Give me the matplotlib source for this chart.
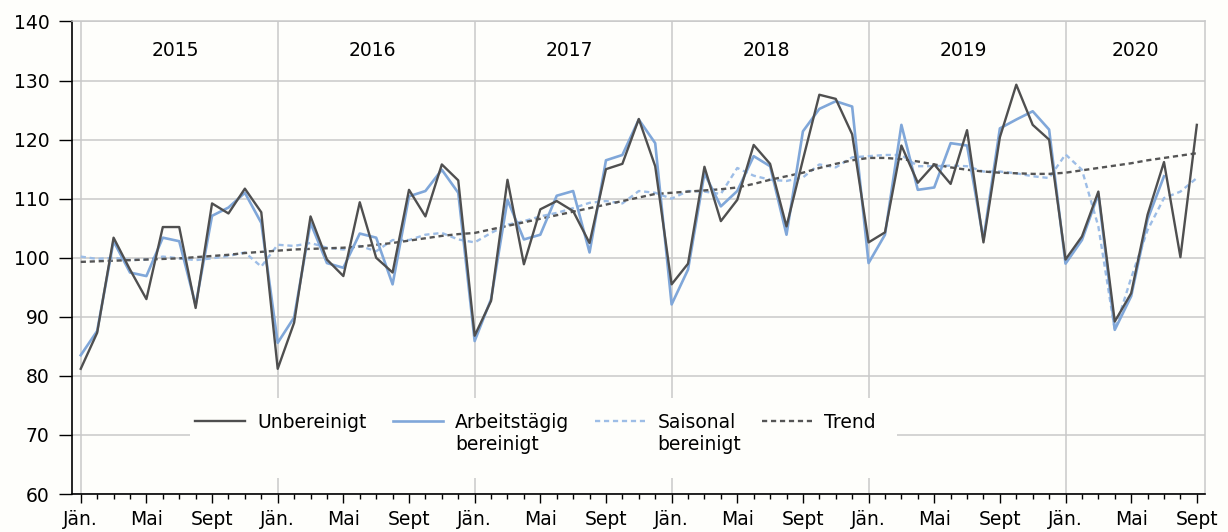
import numpy as np
import matplotlib
matplotlib.use("Agg")
import matplotlib.pyplot as plt
from matplotlib.lines import Line2D
from matplotlib.patches import Rectangle

# monthly index values, Jan 2015 .. Sept 2020
years = ["2015", "2016", "2017", "2018", "2019", "2020"]
month_labels = ["Jän.", "Mai", "Sept"]

unbereinigt = [
    81.2, 87.3, 103.4, 98.0, 93.0, 105.2, 105.2, 91.5, 109.2, 107.5, 111.7, 107.7,
    81.2, 89.0, 107.0, 99.7, 96.9, 109.4, 100.0, 97.5, 111.5, 107.0, 115.8, 113.1,
    86.8, 92.7, 113.2, 98.9, 108.2, 109.6, 107.9, 102.5, 115.0, 115.9, 123.5, 115.5,
    95.5, 99.0, 115.4, 106.2, 109.8, 119.1, 115.9, 105.3, 116.6, 127.6, 126.9, 120.9,
    102.6, 104.3, 119.0, 112.7, 115.8, 112.5, 121.6, 102.6, 120.4, 129.3, 122.5, 120.0,
    99.7, 103.6, 111.2, 89.2, 94.0, 107.3, 116.2, 100.1, 122.5,
]
arbeitstaegig = [
    83.5, 87.6, 102.8, 97.5, 96.9, 103.4, 102.8, 92.0, 107.1, 108.5, 111.0, 105.9,
    85.6, 89.9, 105.9, 99.1, 98.3, 104.1, 103.4, 95.5, 110.4, 111.3, 114.9, 111.0,
    85.9, 93.0, 109.8, 103.1, 103.9, 110.5, 111.3, 100.9, 116.5, 117.4, 123.4, 119.4,
    92.1, 98.0, 114.3, 108.7, 111.3, 117.2, 115.5, 103.9, 121.4, 125.2, 126.5, 125.6,
    99.1, 103.9, 122.5, 111.5, 111.9, 119.4, 119.0, 103.1, 121.9, 123.4, 124.8, 121.7,
    99.0, 103.0, 110.8, 87.8, 93.5, 106.5, 113.8, np.nan, np.nan,
]
saisonal = [
    100.2, 99.8, 100.0, 99.6, 99.7, 100.2, 99.9, 99.6, 99.9, 100.3, 100.9, 98.5,
    102.2, 102.0, 102.5, 101.7, 101.4, 102.0, 101.1, 103.0, 103.0, 103.9, 104.2, 103.1,
    102.6, 104.2, 105.6, 106.2, 107.0, 107.6, 108.4, 109.3, 109.6, 109.2, 111.3, 111.0,
    110.0, 111.3, 111.2, 110.8, 115.2, 113.9, 113.2, 113.0, 113.6, 115.8, 115.3, 117.0,
    117.2, 117.4, 117.4, 115.5, 115.5, 115.6, 115.5, 114.6, 114.6, 114.3, 113.8, 113.5,
    117.5, 114.9, 105.3, 87.8, 96.6, 104.7, 110.1, 111.2, 113.5,
]
trend = [
    99.3, 99.4, 99.5, 99.6, 99.7, 99.8, 99.9, 100.1, 100.3, 100.5, 100.8, 101.0,
    101.2, 101.4, 101.5, 101.6, 101.7, 101.9, 102.2, 102.5, 102.9, 103.3, 103.7, 104.0,
    104.2, 104.8, 105.4, 106.0, 106.6, 107.2, 107.8, 108.4, 109.0, 109.6, 110.2, 110.8,
    111.0, 111.2, 111.4, 111.6, 111.9, 112.5, 113.2, 113.8, 114.4, 115.2, 115.9, 116.5,
    116.9, 116.9, 116.7, 116.3, 115.8, 115.3, 114.9, 114.6, 114.4, 114.3, 114.2, 114.2,
    114.4, 114.8, 115.2, 115.6, 116.0, 116.5, 116.9, 117.3, 117.7,
]

bg = "#fefefb"
grid_c = "#c9c9c9"
c_unb = "#4f4f4f"
c_arb = "#80a7d9"
c_sai = "#9dbde6"
c_trend = "#555555"
fs = 13.5

plt.rcParams["font.family"] = ["DejaVu Sans"]

fig = plt.figure(figsize=(12.28, 5.32), dpi=100, facecolor=bg)
ax = fig.add_axes([0.0584, 0.0714, 0.9229, 0.8882], facecolor=bg)

months = np.arange(len(unbereinigt))

ax.plot(months, saisonal, color=c_sai, lw=1.7, dashes=(2.2, 1.6), zorder=3)
ax.plot(months, trend, color=c_trend, lw=1.7, dashes=(2.2, 1.6), zorder=3.2)
ax.plot(months, arbeitstaegig, color=c_arb, lw=1.9, zorder=3.5)
ax.plot(months, unbereinigt, color=c_unb, lw=1.7, zorder=4)

ax.set_xlim(-0.55, 68.5)
ax.set_ylim(60, 140)

# grid: horizontal every 10, vertical at every January
ax.set_yticks(np.arange(60, 141, 10))
ax.yaxis.grid(True, color=grid_c, lw=1.1, zorder=1)
for i in range(len(years)):
    ax.axvline(12 * i, color=grid_c, lw=1.1, zorder=1)

# month ticks
major = [m for m in months if m % 12 in (0, 4, 8)]
ax.set_xticks(major)
ax.set_xticklabels([month_labels[(m % 12) // 4] for m in major])
ax.set_xticks(months, minor=True)
ax.tick_params(axis="x", which="major", length=6.5, width=1, pad=5,
               labelsize=fs, direction="out")
ax.tick_params(axis="x", which="minor", length=3.6, width=1, direction="out")
ax.tick_params(axis="y", length=9.5, width=1, pad=6.5, labelsize=fs)

for s in ["left", "bottom"]:
    ax.spines[s].set_color("black")
    ax.spines[s].set_linewidth(1.2)
for s in ["top", "right"]:
    ax.spines[s].set_color(grid_c)
    ax.spines[s].set_linewidth(1.1)

# year labels
for i, y in enumerate(years):
    xc = 12 * i + 5.75 if i < len(years) - 1 else (60 + 68.5) / 2
    ax.text(xc, 135.1, y, ha="center", va="center", fontsize=fs)

# white box behind the legend hides the grid
ax.add_patch(Rectangle((0.1044, 0.0339), 0.6238, 0.1693, transform=ax.transAxes,
                       facecolor=bg, edgecolor="none", zorder=2))

handles = [
    Line2D([], [], color=c_unb, lw=1.7),
    Line2D([], [], color=c_arb, lw=1.9),
    Line2D([], [], color=c_sai, lw=1.7, dashes=(2.2, 1.6)),
    Line2D([], [], color=c_trend, lw=1.7, dashes=(2.2, 1.6)),
]
labels = ["Unbereinigt", "Arbeitstägig", "Saisonal", "Trend"]
leg = ax.legend(handles, labels, ncol=4, loc="upper left",
                bbox_to_anchor=(0.1088, 0.1725), frameon=False, fontsize=fs,
                handlelength=2.67, handletextpad=0.64, columnspacing=1.4,
                borderpad=0, borderaxespad=0)
leg.set_zorder(5)

# second line of the two-line legend labels
for t in leg.get_texts()[1:3]:
    ax.annotate("bereinigt", xy=(0, 0), xycoords=t, xytext=(0, -13.4),
                textcoords="offset points", ha="left", va="baseline",
                fontsize=fs, zorder=6)

fig.savefig("out.png", dpi=100, facecolor=bg)
